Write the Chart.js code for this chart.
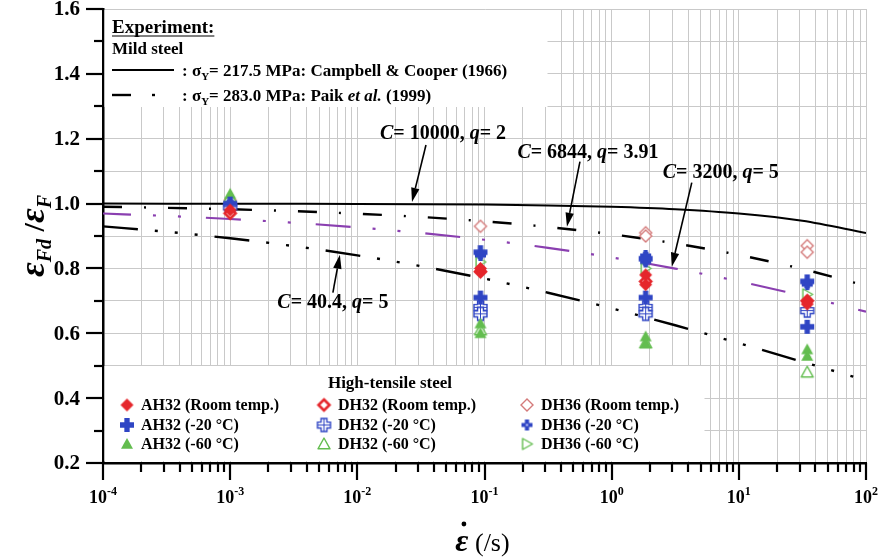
<!DOCTYPE html>
<html>
<head>
<meta charset="utf-8">
<script src="https://cdn.jsdelivr.net/npm/chart.js"></script>
<style>
  html, body { margin: 0; padding: 0; background: #fff; }
  canvas { display: block; }
</style>
</head>
<body>
<canvas id="chart" width="882" height="558"></canvas>
<script>
// ---- data ----
const decadeExps = [-4, -3, -2, -1, 0, 1, 2];
const yTickLabels = ['0.2', '0.4', '0.6', '0.8', '1.0', '1.2', '1.4', '1.6'];

// strain rates where the fitted curves were read
const curveRates = [1e-4, 3.16e-4, 1e-3, 3.16e-3, 1e-2, 3.16e-2, 1e-1, 3.16e-1, 1, 3.16, 10, 31.6, 100];
const curveC10000 = [0.9999, 0.9998, 0.9997, 0.9994, 0.9990, 0.9982, 0.9968, 0.9944, 0.9901, 0.9825, 0.9693, 0.9468, 0.9091];
const curveC6844  = [0.9902, 0.9869, 0.9825, 0.9766, 0.9688, 0.9586, 0.9452, 0.9278, 0.9054, 0.8770, 0.8415, 0.7982, 0.7466];
const curveC3200  = [0.9694, 0.9618, 0.9524, 0.9408, 0.9265, 0.9093, 0.8884, 0.8635, 0.8340, 0.7996, 0.7602, 0.7157, 0.6667];
const curveC404   = [0.9297, 0.9131, 0.8929, 0.8689, 0.8403, 0.8070, 0.7686, 0.7251, 0.6770, 0.6247, 0.5694, 0.5122, 0.4549];

// test strain rates, and measured values per rate (several specimens per rate)
const testRates = [1e-3, 0.093, 1.85, 34.5];
const ah32Room = [[0.98], [0.79, 0.80], [0.75, 0.78], [0.70, 0.69]];
const ah32M20  = [[1.00], [0.85, 0.71], [0.83, 0.71], [0.76, 0.62]];
const ah32M60  = [[1.03], [0.63, 0.60], [0.59, 0.57], [0.55, 0.53]];
const dh32Room = [[0.97], [0.79], [0.76], [0.70]];
const dh32M20  = [[0.99], [0.68, 0.66], [0.68, 0.66], [0.67]];
const dh32M60  = [[1.02], [0.61], [0.57], [0.48]];
const dh36Room = [[1.01], [0.93], [0.91, 0.90], [0.87, 0.85]];
const dh36M20  = [[0.98], [0.84], [0.84, 0.82], [0.75]];
const dh36M60  = [[1.00], [0.82], [0.80], [0.72]];

const seriesNames = ['AH32 (Room temp.)', 'AH32 (-20 °C)', 'AH32 (-60 °C)',
                     'DH32 (Room temp.)', 'DH32 (-20 °C)', 'DH32 (-60 °C)',
                     'DH36 (Room temp.)', 'DH36 (-20 °C)', 'DH36 (-60 °C)'];

const SERIF = '"Liberation Serif", "Times New Roman", serif';
const RED = '#e5262b', BLUE = '#2f45c4', GREEN = '#63bd4f', PINK = '#d47a7a', PURPLE = '#8a3fb0';

// marker glyphs drawn into small canvases (used for points and legend)
function marker(kind, color, size) {
  const s = size + 6;
  const c = document.createElement('canvas');
  c.width = s; c.height = s;
  const g = c.getContext('2d');
  const r = size / 2;
  g.translate(s / 2, s / 2);
  g.beginPath();
  if (kind.indexOf('diamond') === 0) {
    g.moveTo(0, -r); g.lineTo(r, 0); g.lineTo(0, r); g.lineTo(-r, 0); g.closePath();
  } else if (kind.indexOf('triUp') === 0) {
    g.moveTo(0, -r); g.lineTo(r, r * 0.8); g.lineTo(-r, r * 0.8); g.closePath();
  } else if (kind.indexOf('triRight') === 0) {
    g.moveTo(r, 0); g.lineTo(-r * 0.8, r); g.lineTo(-r * 0.8, -r); g.closePath();
  } else {
    const h = kind === 'plusOpen' ? r * 0.45 : r * 0.38;
    const p = [[-h,-r],[h,-r],[h,-h],[r,-h],[r,h],[h,h],[h,r],[-h,r],[-h,h],[-r,h],[-r,-h],[-h,-h]];
    p.forEach((q, i) => i ? g.lineTo(q[0], q[1]) : g.moveTo(q[0], q[1]));
    g.closePath();
  }
  g.lineJoin = kind.indexOf('tri') === 0 ? 'round' : 'miter';
  if (kind.slice(-4) === 'Fill') {
    g.fillStyle = color; g.fill();
  } else {
    g.fillStyle = '#fff'; g.fill();
    g.strokeStyle = color;
    g.lineWidth = kind === 'diamondOpenThick' ? 2.6 : 1.4;
    g.stroke();
  }
  if (kind === 'plusOpen') {
    g.beginPath(); g.strokeStyle = color; g.lineWidth = 1;
    g.moveTo(-r, 0); g.lineTo(r, 0); g.moveTo(0, -r); g.lineTo(0, r); g.stroke();
  }
  if (kind === 'plusSmallFill') {
    g.fillStyle = '#cfd6ff'; g.fillRect(-1, -1, 2, 2);
  }
  return c;
}

const markerImgs = [
  marker('diamondFill', RED, 13),
  marker('plusFill', BLUE, 14),
  marker('triUpFill', GREEN, 12),
  marker('diamondOpenThick', RED, 11),
  marker('plusOpen', BLUE, 13),
  marker('triUpOpen', GREEN, 12),
  marker('diamondOpenThin', PINK, 12),
  marker('plusSmallFill', BLUE, 11),
  marker('triRightOpen', GREEN, 11)
];
const seriesValues = [ah32Room, ah32M20, ah32M60, dh32Room, dh32M20, dh32M60, dh36Room, dh36M20, dh36M60];

function pointsOf(values) {
  const pts = [];
  values.forEach((ys, i) => ys.forEach(v => pts.push({ x: testRates[i], y: v })));
  return pts;
}
function curveOf(vals) {
  return curveRates.map((r, i) => ({ x: r, y: vals[i] }));
}

const datasets = seriesValues.map((vals, i) => ({
  type: 'scatter',
  label: seriesNames[i],
  data: pointsOf(vals),
  pointStyle: markerImgs[i],
  pointRadius: 6,
  order: 1
}));

function curveSet(vals, color, dash, offset, width) {
  return {
    type: 'line', data: curveOf(vals), borderColor: color, borderWidth: width,
    borderDash: dash, borderDashOffset: offset, borderCapStyle: 'butt',
    pointRadius: 0, cubicInterpolationMode: 'monotone', fill: false, order: 5
  };
}
datasets.push(curveSet(curveC10000, '#000', [], 0, 2));
datasets.push(curveSet(curveC6844, '#000', [19, 22, 2, 22], 0, 2.4));
datasets.push(curveSet(curveC3200, PURPLE, [35, 22, 3, 22, 3, 25], 7, 2.2));
datasets.push(curveSet(curveC404, '#000', [35, 17, 3, 17, 3, 17, 3, 17], 0, 2.4));

// arrows: tip in data units, tail and label centre as pixel offsets from tip
const notes = [
  { tip: [0.0269, 1.005], tail: [14, -57], at: [31, -68], parts: [['C', 'i'], ['= 10000, ', 'b'], ['q', 'i'], ['= 2', 'b']] },
  { tip: [0.445, 0.9287], tail: [13, -65], at: [21, -74], parts: [['C', 'i'], ['= 6844, ', 'b'], ['q', 'i'], ['= 3.91', 'b']] },
  { tip: [2.97, 0.8054], tail: [20, -84], at: [49, -94], parts: [['C', 'i'], ['= 3200, ', 'b'], ['q', 'i'], ['= 5', 'b']] },
  { tip: [0.00729, 0.8424], tail: [-7, 38], at: [-7, 48], parts: [['C', 'i'], ['= 40.4, ', 'b'], ['q', 'i'], ['= 5', 'b']] }
];

function runWidth(ctx, parts) {
  let w = 0;
  parts.forEach(p => { ctx.font = p[1]; w += ctx.measureText(p[0]).width; });
  return w;
}
function run(ctx, parts, x, y) {
  parts.forEach(p => {
    ctx.font = p[1];
    ctx.fillText(p[0], x, y + (p[2] || 0));
    x += ctx.measureText(p[0]).width;
  });
  return x;
}
function seg(ctx, x1, y1, x2, y2, w) {
  ctx.lineWidth = w; ctx.beginPath(); ctx.moveTo(x1, y1); ctx.lineTo(x2, y2); ctx.stroke();
}
function arrow(ctx, x1, y1, x2, y2) {
  const ang = Math.atan2(y2 - y1, x2 - x1), L = 14, W = 4.2;
  const bx = x2 - L * Math.cos(ang), by = y2 - L * Math.sin(ang);
  seg(ctx, x1, y1, bx, by, 1.6);
  ctx.beginPath();
  ctx.moveTo(x2, y2);
  ctx.lineTo(bx + W * Math.sin(ang), by - W * Math.cos(ang));
  ctx.lineTo(bx - W * Math.sin(ang), by + W * Math.cos(ang));
  ctx.closePath(); ctx.fill();
}

const decor = {
  id: 'decor',
  afterDraw(chart) {
    const { ctx, chartArea: a } = chart;
    const xs = chart.scales.x, ys = chart.scales.y;
    ctx.save();
    ctx.fillStyle = '#000'; ctx.strokeStyle = '#000';

    // y ticks and labels
    ys.ticks.forEach(t => {
      const py = Math.round(ys.getPixelForValue(t.value));
      const major = Math.round(t.value * 10) % 2 === 0;
      seg(ctx, a.left - (major ? 17 : 9), py, a.left, py, 2.2);
    });
    ctx.font = 'bold 21px ' + SERIF; ctx.textAlign = 'right'; ctx.textBaseline = 'middle';
    yTickLabels.forEach(l => ctx.fillText(l, a.left - 23, ys.getPixelForValue(parseFloat(l)) + 1));

    // x ticks and labels
    xs.ticks.forEach(t => {
      const px = Math.round(xs.getPixelForValue(t.value));
      const major = decadeExps.some(e => Math.abs(Math.log10(t.value) - e) < 1e-6);
      seg(ctx, px, a.bottom, px, a.bottom + (major ? 17 : 9), 2.2);
    });
    ctx.textAlign = 'left'; ctx.textBaseline = 'alphabetic';
    decadeExps.forEach(e => {
      const px = xs.getPixelForValue(Math.pow(10, e));
      const parts = [['10', 'bold 18px ' + SERIF], [String(e), 'bold 12px ' + SERIF, -8]];
      run(ctx, parts, px - runWidth(ctx, parts) / 2, 503);
    });

    // axis titles
    ctx.save();
    ctx.translate(44, 236); ctx.rotate(-Math.PI / 2);
    const yt = [['ε', 'italic bold 36px ' + SERIF], ['Fd', 'italic bold 20px ' + SERIF, 7],
                [' /', 'bold 30px ' + SERIF], ['ε', 'italic bold 36px ' + SERIF], ['F', 'italic bold 20px ' + SERIF, 7]];
    run(ctx, yt, -runWidth(ctx, yt) / 2, 0);
    ctx.restore();

    const xt = [['ε', 'italic bold 32px ' + SERIF], [' (/s)', '26px ' + SERIF]];
    const xw = runWidth(ctx, xt), x0 = a.left + (a.right - a.left) / 2 - xw / 2 - 2;
    run(ctx, xt, x0, 551);
    ctx.font = 'italic bold 32px ' + SERIF;
    const ew = ctx.measureText('ε').width;
    ctx.beginPath(); ctx.arc(x0 + ew / 2 + 2, 524, 2.4, 0, Math.PI * 2); ctx.fill();

    // annotations
    notes.forEach(n => {
      const tx = xs.getPixelForValue(n.tip[0]), ty = ys.getPixelForValue(n.tip[1]);
      arrow(ctx, tx + n.tail[0], ty + n.tail[1], tx, ty);
      const parts = n.parts.map(p => [p[0], (p[1] === 'i' ? 'italic bold 20px ' : 'bold 20px ') + SERIF]);
      ctx.textBaseline = 'middle';
      run(ctx, parts, tx + n.at[0] - runWidth(ctx, parts) / 2, ty + n.at[1]);
    });
    ctx.textBaseline = 'alphabetic';

    // top legend: mild steel curves
    ctx.fillStyle = '#fff'; ctx.fillRect(a.left + 1.5, a.top + 1, 443, 97);
    ctx.fillStyle = '#000';
    ctx.font = 'bold 19px ' + SERIF;
    ctx.fillText('Experiment:', 112, 33);
    seg(ctx, 112, 36, 112 + ctx.measureText('Experiment:').width, 36, 1.2);
    ctx.font = 'bold 17px ' + SERIF;
    ctx.fillText('Mild steel', 112, 54);
    seg(ctx, 112, 70, 174, 70, 2);
    const b17 = 'bold 17px ' + SERIF, sub = 'bold 11px ' + SERIF;
    run(ctx, [[': σ', b17], ['Y', sub, 4], ['= 217.5 MPa: Campbell & Cooper (1966)', b17]], 182, 76);
    seg(ctx, 112, 95, 131, 95, 2.4);
    seg(ctx, 152, 95, 155, 95, 2.4);
    run(ctx, [[': σ', b17], ['Y', sub, 4], ['= 283.0 MPa: Paik ', b17], ['et al.', 'italic bold 17px ' + SERIF], [' (1999)', b17]], 182, 101);

    // bottom legend: high-tensile steel specimens
    ctx.fillStyle = '#fff'; ctx.fillRect(a.left + 1.5, 366, 600, 95);
    ctx.fillStyle = '#000';
    ctx.font = 'bold 17px ' + SERIF; ctx.textAlign = 'center';
    ctx.fillText('High-tensile steel', 390, 388);
    ctx.textAlign = 'left'; ctx.textBaseline = 'middle';
    ctx.font = 'bold 16px ' + SERIF;
    const colX = [127, 324, 527], rowY = [405, 425, 444];
    seriesNames.forEach((name, i) => {
      const col = Math.floor(i / 3), row = i % 3;
      const img = markerImgs[i];
      ctx.drawImage(img, colX[col] - img.width / 2, rowY[row] - img.height / 2);
      ctx.fillText(name, colX[col] + 14, rowY[row] + 1);
    });
    ctx.restore();
  }
};

new Chart(document.getElementById('chart'), {
  type: 'scatter',
  data: { datasets },
  options: {
    responsive: false,
    devicePixelRatio: 1,
    animation: false,
    events: [],
    layout: { padding: { top: 9, right: 16, left: 0, bottom: 0 } },
    plugins: { legend: { display: false }, tooltip: { enabled: false } },
    scales: {
      x: {
        type: 'logarithmic', min: 1e-4, max: 1e2,
        afterBuildTicks: s => {
          const t = [];
          decadeExps.forEach((e, i) => {
            for (let m = 1; m <= 9; m++) {
              if (i === decadeExps.length - 1 && m > 1) break;
              t.push({ value: m * Math.pow(10, e) });
            }
          });
          s.ticks = t;
        },
        afterFit: s => { s.height = 95; },
        ticks: { display: false },
        grid: { color: '#c9c9c9', lineWidth: 1, drawTicks: false },
        border: { color: '#000', width: 2.5 }
      },
      y: {
        min: 0.2, max: 1.6,
        ticks: { display: false, stepSize: 0.1 },
        afterFit: s => { s.width = 103; },
        grid: { color: '#c9c9c9', lineWidth: 1, drawTicks: false },
        border: { color: '#000', width: 2.5 }
      }
    }
  },
  plugins: [decor]
});
</script>
</body>
</html>
